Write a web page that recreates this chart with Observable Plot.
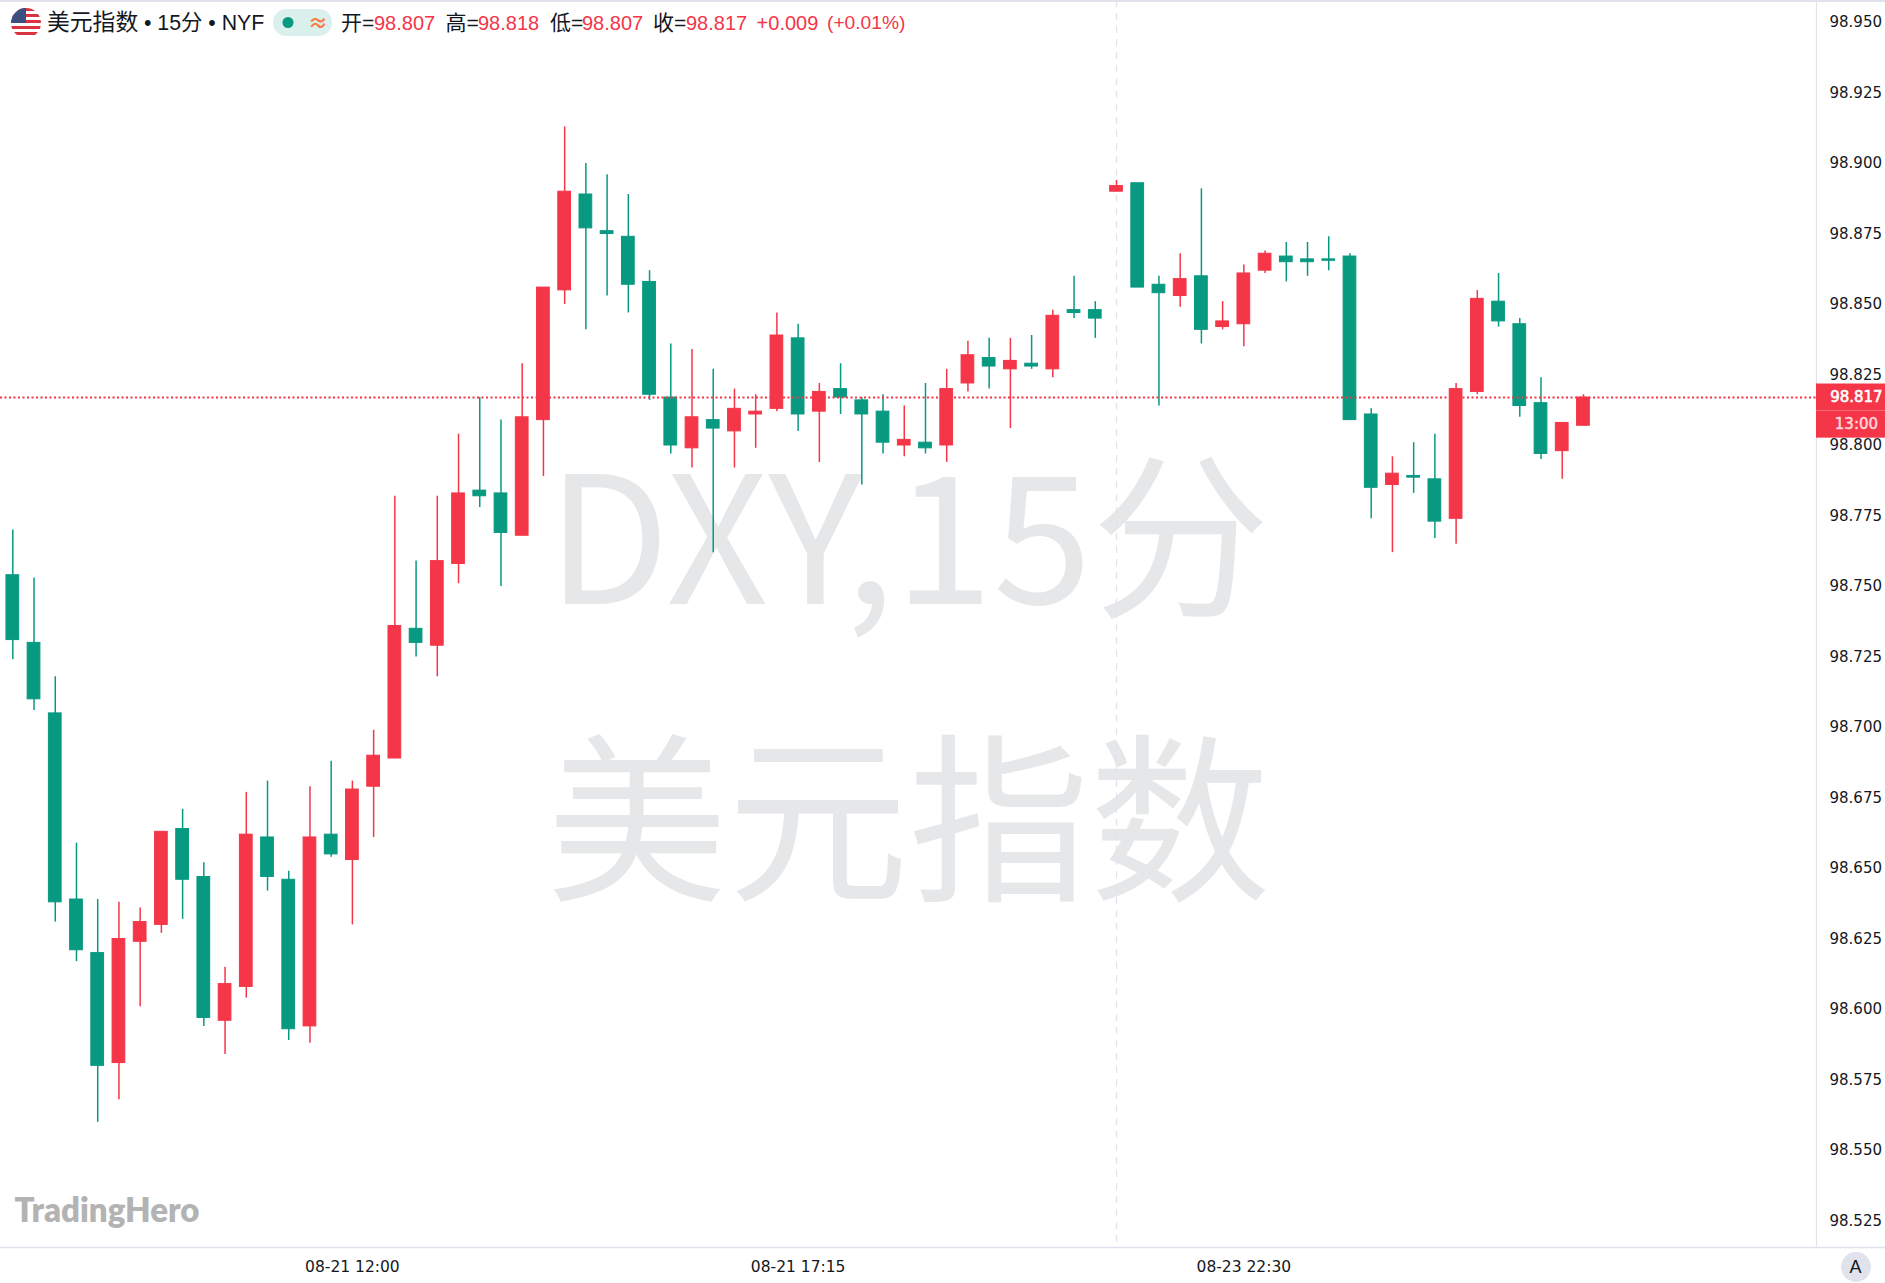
<!DOCTYPE html>
<html><head><meta charset="utf-8">
<script src="https://cdn.jsdelivr.net/npm/d3@7"></script>
<script src="https://cdn.jsdelivr.net/npm/@observablehq/plot@0.6"></script>
<style>
html,body{margin:0;padding:0;background:#fff;overflow:hidden}
#wrap{position:relative;width:1885px;height:1283px;overflow:hidden}
#wrap svg.chart{display:block}
.h{position:absolute;top:0;height:46px;line-height:46px;white-space:nowrap;color:#131722;font-family:"Noto Sans CJK SC","Liberation Sans",sans-serif;font-size:22px}
.n{font-family:"Liberation Sans",sans-serif;font-size:20px;color:#f43648}
.l{font-family:"Liberation Sans","Noto Sans CJK SC",sans-serif;font-size:20px}
</style></head><body>
<div id="wrap"></div>
<script>
const highs=[98.770,98.753,98.718,98.659,98.639,98.638,98.636,98.663,98.671,98.652,98.615,98.677,98.681,98.649,98.679,98.688,98.681,98.699,98.782,98.759,98.782,98.804,98.817,98.809,98.829,98.856,98.913,98.900,98.896,98.889,98.862,98.836,98.834,98.827,98.820,98.818,98.847,98.843,98.822,98.829,98.817,98.818,98.814,98.822,98.827,98.837,98.838,98.838,98.839,98.848,98.860,98.851,98.894,98.893,98.860,98.868,98.891,98.851,98.864,98.869,98.872,98.872,98.874,98.868,98.813,98.796,98.801,98.804,98.822,98.855,98.861,98.845,98.824,98.808,98.818];
const lows=[98.724,98.706,98.631,98.617,98.560,98.568,98.601,98.627,98.632,98.594,98.584,98.604,98.642,98.589,98.588,98.654,98.630,98.661,98.689,98.725,98.718,98.751,98.778,98.750,98.768,98.789,98.850,98.841,98.853,98.847,98.816,98.797,98.792,98.762,98.792,98.799,98.812,98.805,98.794,98.811,98.786,98.797,98.796,98.797,98.794,98.819,98.820,98.806,98.827,98.824,98.845,98.838,98.890,98.856,98.814,98.849,98.836,98.841,98.835,98.861,98.858,98.860,98.862,98.809,98.774,98.762,98.783,98.767,98.765,98.818,98.842,98.810,98.795,98.788,98.807];
const opens=[98.754,98.730,98.705,98.639,98.620,98.581,98.624,98.630,98.664,98.647,98.596,98.608,98.661,98.646,98.594,98.662,98.653,98.679,98.689,98.735,98.729,98.758,98.784,98.783,98.768,98.809,98.855,98.889,98.876,98.874,98.858,98.817,98.799,98.809,98.805,98.811,98.813,98.838,98.812,98.820,98.816,98.812,98.800,98.801,98.800,98.822,98.831,98.827,98.829,98.827,98.848,98.848,98.890,98.893,98.857,98.853,98.860,98.842,98.843,98.862,98.867,98.866,98.866,98.867,98.811,98.786,98.7892,98.788,98.774,98.819,98.851,98.843,98.815,98.798,98.807];
const closes=[98.731,98.710,98.638,98.621,98.580,98.625,98.631,98.663,98.646,98.597,98.609,98.662,98.647,98.593,98.661,98.655,98.678,98.690,98.736,98.730,98.759,98.783,98.782,98.769,98.810,98.856,98.890,98.877,98.875,98.857,98.818,98.800,98.810,98.806,98.813,98.812,98.839,98.811,98.819,98.817,98.811,98.801,98.802,98.799,98.820,98.832,98.828,98.830,98.828,98.846,98.847,98.845,98.892,98.856,98.854,98.859,98.841,98.844,98.861,98.868,98.865,98.865,98.8655,98.809,98.785,98.790,98.7886,98.773,98.820,98.852,98.844,98.814,98.797,98.808,98.817];
const yTicks=[98.525,98.55,98.575,98.6,98.625,98.65,98.675,98.7,98.725,98.75,98.775,98.8,98.825,98.85,98.875,98.9,98.925,98.95];
const xTicks=[16,37,58];
const xLabels=["08-21 12:00","08-21 17:15","08-23 22:30"];
const lastPrice=98.817;
const sessionBreak=52;
const up="#f43648",down="#089981",grid="#e0e3eb";
const candles=opens.map((o,i)=>({i,open:o,high:highs[i],low:lows[i],close:closes[i],color:closes[i]>o?up:down}));
const xDomain=[-0.58,84.98],xEnd=88.23;
const tag=[{y1:98.8124,y2:98.8218},{y1:98.8026,y2:98.8124}];
const ff='"DejaVu Sans",sans-serif';
const wmFont='"Noto Sans CJK SC","Noto Sans",sans-serif';
const chart=Plot.plot({
  width:1885,height:1283,marginLeft:0,marginRight:69,marginTop:0,marginBottom:36,
  className:"chart",
  style:{background:"#fff",fontFamily:ff,overflow:"visible"},
  x:{domain:xDomain,axis:null},
  y:{domain:[98.5156,98.9578],axis:null},
  color:{type:"identity"},
  marks:[
    Plot.text(["DXY,15分"],{frameAnchor:"middle",dy:-77,fontSize:178,fontFamily:wmFont,fill:"#e6e7e9"}),
    Plot.text(["美元指数"],{frameAnchor:"middle",dy:205,fontSize:181,fontFamily:wmFont,fill:"#e6e7e9"}),
    Plot.ruleX([sessionBreak],{stroke:grid,strokeWidth:1.2,strokeDasharray:"7,6"}),
    Plot.ruleX(candles,{x:"i",y1:"low",y2:"high",stroke:"color",strokeWidth:1.5}),
    Plot.rect(candles,{x1:d=>d.i-0.3,x2:d=>d.i+0.3,y1:"open",y2:"close",fill:"color",stroke:"color",strokeWidth:1}),
    Plot.ruleY([lastPrice],{x1:xDomain[0],x2:xDomain[1],stroke:up,strokeWidth:1.9,strokeDasharray:"2,2.5"}),
    Plot.ruleX([xDomain[1]],{stroke:grid,strokeWidth:1.2}),
    Plot.ruleY([98.5156],{x1:xDomain[0],x2:xEnd,stroke:grid,strokeWidth:1.6}),
    Plot.axisY({anchor:"right",label:null,ticks:yTicks,tickFormat:d=>d.toFixed(3),tickSize:0,tickPadding:13,fontSize:15,fill:"#131722"}),
    Plot.axisX({anchor:"bottom",label:null,ticks:xTicks,tickFormat:d=>xLabels[xTicks.indexOf(d)],tickSize:0,tickPadding:13,fontSize:15.5,fill:"#131722"}),
    Plot.rect(tag,{x1:xDomain[1],x2:xEnd,y1:"y1",y2:"y2",fill:up}),
    Plot.ruleY([98.8124],{x1:xDomain[1],x2:xEnd,stroke:"#fff",strokeOpacity:0.25,strokeWidth:1}),
    Plot.text([lastPrice],{x:xEnd-1.37,y:lastPrice,text:d=>d.toFixed(3),fontSize:15,stroke:"#fff",strokeWidth:0.6,fill:"#fff"}),
    Plot.text(["13:00"],{x:xEnd-1.37,y:98.8075,fontSize:15,stroke:"#ffd6da",strokeWidth:0.5,fill:"#ffd6da"}),
    Plot.text(["TradingHero"],{frameAnchor:"bottom-left",dx:14,dy:-26,fontSize:33,fontWeight:800,fontFamily:'"Lato",sans-serif',fill:"#b3b3b3"})
  ]
});
const wrap=document.getElementById("wrap");
wrap.appendChild(chart);
function piece(cls,left,text,extra){const s=document.createElement("div");s.className="h "+cls;s.style.left=left+"px";s.textContent=text;if(extra)s.style.cssText+=extra;wrap.appendChild(s);}
const stripe=document.createElement("div");stripe.style.cssText="position:absolute;left:0;top:0;width:1885px;height:2px;background:#e0e3eb";wrap.appendChild(stripe);
const deco=document.createElement("div");
deco.innerHTML=`<svg width="1885" height="1283" style="position:absolute;left:0;top:0;pointer-events:none" xmlns="http://www.w3.org/2000/svg">
<defs><clipPath id="fc"><circle cx="26" cy="23" r="15"/></clipPath></defs>
<g clip-path="url(#fc)"><rect x="11" y="8" width="30" height="30" fill="#fff"/>
<g fill="#d8333f"><rect x="11" y="8" width="30" height="3"/><rect x="11" y="14" width="30" height="3"/><rect x="11" y="20" width="30" height="3"/><rect x="11" y="26" width="30" height="3"/><rect x="11" y="32" width="30" height="3"/></g>
<rect x="11" y="8" width="15" height="15" fill="#3d4f7d"/></g>
<rect x="273" y="9" width="59" height="27" rx="13.5" fill="#daf0ec"/>
<circle cx="288" cy="22.5" r="5.5" fill="#089981"/>
<circle cx="1856" cy="1267" r="15" fill="#e0e3eb"/></svg>`;
wrap.appendChild(deco);
piece("",47,"美元指数","font-size:22.8px;top:-2px");
piece("l",144,"• 15分 • NYF","font-size:21.3px");
piece("",308,"≈","color:#ff7a45;font-size:20px;font-weight:bold");
[[341,"开=","98.807",374],[445.5,"高=","98.818",478],[550,"低=","98.807",582],[653,"收=","98.817",686]].forEach(([a,t,v,b])=>{piece("l",a,t,"font-size:21px");piece("n",b,v);});
piece("n",756.6,"+0.009");
piece("n",827,"(+0.01%)","font-size:19.2px");
piece("l",1849.5,"A","top:1244px;font-size:18px");
</script>
</body></html>
